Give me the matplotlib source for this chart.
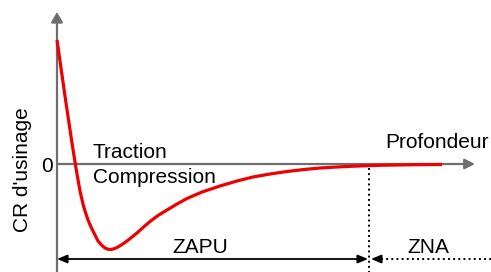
import matplotlib
matplotlib.use('Agg')
import matplotlib.pyplot as plt

plt.rcParams['font.family'] = ['Liberation Sans', 'DejaVu Sans']

# residual stress profile (depth, CR)
depth = [0, 3, 6, 9, 12, 15, 18, 20, 23, 26, 28, 31, 34.5, 38, 41, 44.5, 48,
         51, 54, 57, 60, 65, 70, 75, 80, 86, 93, 101, 110, 120, 130, 145, 163,
         180, 196, 213, 230, 247, 263, 280, 296, 310, 323, 340, 353, 370, 385]
cr = [124, 103, 82, 61, 41, 21, 2, -10, -27, -40, -47, -56, -64, -71, -77,
      -81, -84, -85.3, -85.5, -84.8, -83.5, -80.5, -77, -73, -69, -63.5,
      -57.5, -51.5, -46, -40, -34.5, -28, -22, -17, -13, -10, -7.5, -5.5,
      -4, -3, -2.2, -1.7, -1.3, -1, -0.8, -0.6, -0.5]

zapu_end = 312   # limit between affected and non affected zones
axis_end = 418
axis_top = 152

grey = '#6e6e6e'

fig = plt.figure(figsize=(4.91, 2.72), dpi=100)
ax = fig.add_axes([0, 0, 1, 1])
ax.set_xlim(-57, 434)
ax.set_ylim(-108, 164)
ax.axis('off')

# axes with arrows
ax.annotate('', xy=(axis_end, 0), xytext=(0, 0),
            arrowprops=dict(arrowstyle='-|>,head_length=0.6,head_width=0.3',
                            color=grey, lw=1.6, shrinkA=0, shrinkB=0))
ax.annotate('', xy=(0, axis_top), xytext=(0, -108),
            arrowprops=dict(arrowstyle='-|>,head_length=0.6,head_width=0.35',
                            color=grey, lw=1.6, shrinkA=0, shrinkB=0))

# curve
ax.plot(depth, cr, color='#ee0000', lw=2.3, solid_capstyle='butt',
        solid_joinstyle='round', zorder=3)

# limit line
ax.plot([zapu_end, zapu_end], [-4, -108], color='black', lw=1.4, ls=':')

# ZAPU arrow
ax.annotate('', xy=(zapu_end - 1, -95), xytext=(0, -95),
            arrowprops=dict(arrowstyle='<|-|>,head_length=0.6,head_width=0.25',
                            color='black', lw=1.3, shrinkA=0, shrinkB=0))
# ZNA arrow (dotted)
ax.plot([zapu_end + 12, 434], [-95, -95], color='black', lw=1.4, ls=':')
ax.annotate('', xy=(zapu_end + 2, -95), xytext=(zapu_end + 12, -95),
            arrowprops=dict(arrowstyle='-|>,head_length=0.6,head_width=0.25',
                            color='black', lw=1.3, shrinkA=0, shrinkB=0))

fs = 15
ax.text(36, 6, 'Traction', fontsize=fs, va='baseline', ha='left')
ax.text(36, -19, 'Compression', fontsize=fs, va='baseline', ha='left')
ax.text(-10, -2, '0', fontsize=fs, va='center', ha='center')
ax.text(-34, -6, "CR d'usinage", fontsize=fs, va='center', ha='center',
        rotation=90)
ax.text(380, 16, 'Profondeur', fontsize=fs, va='baseline', ha='center')
ax.text(143, -89, 'ZAPU', fontsize=fs, va='baseline', ha='center')
ax.text(371, -89, 'ZNA', fontsize=fs, va='baseline', ha='center')

fig.savefig('out.png', dpi=100)
